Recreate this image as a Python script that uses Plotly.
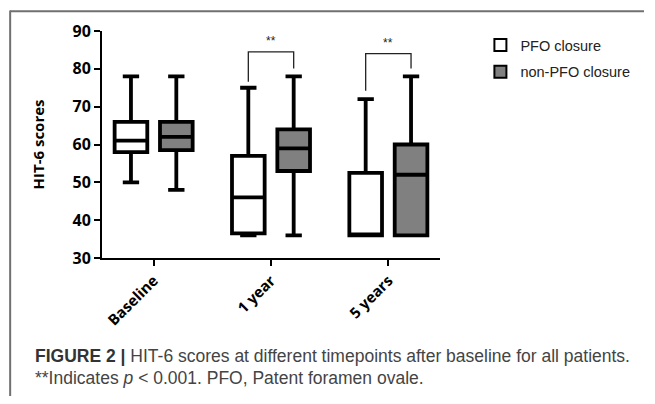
import plotly.graph_objects as go

categories = ["Baseline", "1 year", "5 years"]

pfo_min = [50, 36, 36]
pfo_q1 = [58, 36.5, 36]
pfo_med = [61, 46, 36]
pfo_q3 = [66, 57, 52.5]
pfo_max = [78, 75, 72]

non_min = [48, 36, 36]
non_q1 = [58.5, 53, 36]
non_med = [62, 59, 52]
non_q3 = [66, 64, 60]
non_max = [78, 78, 78]

sig_categories = ["1 year", "5 years"]
bracket_top = [84.5, 84]
bracket_left_end = [76.6, 74.2]
bracket_right_end = [80.1, 80.1]
sig_labels = ["**", "**"]

y_ticks = [30, 40, 50, 60, 70, 80, 90]

# page is offset by the 8px body margin; figure coords = page - 8
W, H = 639, 388
L, T = 94, 21
R = W - 437
B = H - 250
plot_w = W - L - R
plot_h = H - T - B
BOXGAP = 0.227
OFF = (1 - BOXGAP) / 4


def px_x(p):
    return (p - L) / plot_w


def px_y(p):
    return (H - B - p) / plot_h


fig = go.Figure()
fig.add_trace(go.Box(
    name="PFO closure", x=categories, legendgroup="a",
    q1=pfo_q1, median=pfo_med, q3=pfo_q3,
    lowerfence=pfo_min, upperfence=pfo_max,
    fillcolor="white", line=dict(color="black", width=3.8),
    whiskerwidth=0.5, boxpoints=False, hoverinfo="skip",
))
fig.add_trace(go.Box(
    name="non-PFO closure", x=categories, legendgroup="b",
    q1=non_q1, median=non_med, q3=non_q3,
    lowerfence=non_min, upperfence=non_max,
    fillcolor="#808080", line=dict(color="black", width=3.8),
    whiskerwidth=0.5, boxpoints=False, hoverinfo="skip",
))

shapes = []
annotations = []
for cat, top, le, re_, lab in zip(sig_categories, bracket_top, bracket_left_end, bracket_right_end, sig_labels):
    i = categories.index(cat)
    xl, xr = i - OFF, i + OFF
    shapes.append(dict(type="path", xref="x", yref="y",
                       path=f"M {xl},{le} L {xl},{top} L {xr},{top} L {xr},{re_}",
                       line=dict(color="#222", width=1.3)))
    annotations.append(dict(x=i, y=top, xref="x", yref="y", text=lab, showarrow=False,
                            yanchor="bottom", yshift=2,
                            font=dict(family="Liberation Sans, Arial", size=12, color="#222")))

# frame lines
shapes.append(dict(type="line", xref="paper", yref="paper",
                   x0=px_x(0.8), x1=px_x(W + 5), y0=px_y(1.2), y1=px_y(1.2),
                   line=dict(color="#707070", width=2)))
shapes.append(dict(type="line", xref="paper", yref="paper",
                   x0=px_x(0.8), x1=px_x(0.8), y0=px_y(0.2), y1=px_y(H + 10),
                   line=dict(color="#707070", width=2)))

cap_font = dict(family="Liberation Sans, Arial", size=17.5, color="#444")
annotations.append(dict(xref="paper", yref="paper", x=px_x(24), xanchor="left",
                        y=px_y(349), yanchor="middle", showarrow=False, align="left",
                        text="<b><span style='color:#333'>FIGURE 2 |</span></b> HIT-6 scores at different timepoints after baseline for all patients.",
                        font=cap_font))
annotations.append(dict(xref="paper", yref="paper", x=px_x(24), xanchor="left",
                        y=px_y(371), yanchor="middle", showarrow=False, align="left",
                        text="**Indicates <i>p</i> &lt; 0.001. PFO, Patent foramen ovale.",
                        font=cap_font))

fig.update_layout(
    width=W, height=H,
    margin=dict(l=L, r=R, t=T, b=B, pad=0),
    paper_bgcolor="white", plot_bgcolor="white",
    boxmode="group", boxgap=BOXGAP, boxgroupgap=0.28,
    showlegend=True,
    legend=dict(x=px_x(478), xanchor="left", y=px_y(19), yanchor="top",
                font=dict(family="Liberation Sans, Arial", size=14.5, color="#222"),
                tracegroupgap=5, itemsizing="constant", bgcolor="rgba(0,0,0,0)"),
    shapes=shapes, annotations=annotations,
    font=dict(family="Open Sans", color="black"),
)
fig.update_xaxes(type="category", categoryorder="array", categoryarray=categories,
                 range=[-0.44, 2.44], showline=True, linecolor="black", linewidth=2,
                 ticks="outside", ticklen=6, tickwidth=2, tickcolor="black",
                 tickangle=-45, tickfont=dict(family="Open Sans", size=15, color="black", weight="bold"),
                 showgrid=False, zeroline=False)
fig.update_yaxes(range=[30, 90], tickvals=y_ticks, showline=True, linecolor="black", linewidth=2,
                 ticks="outside", ticklen=6, tickwidth=2, tickcolor="black",
                 tickfont=dict(family="Open Sans", size=16, color="black", weight="bold"),
                 title=dict(text="<b>HIT-6 scores</b>", font=dict(family="Open Sans", size=15, color="black"), standoff=24),
                 showgrid=False, zeroline=False)

fig.write_html("out.html")
